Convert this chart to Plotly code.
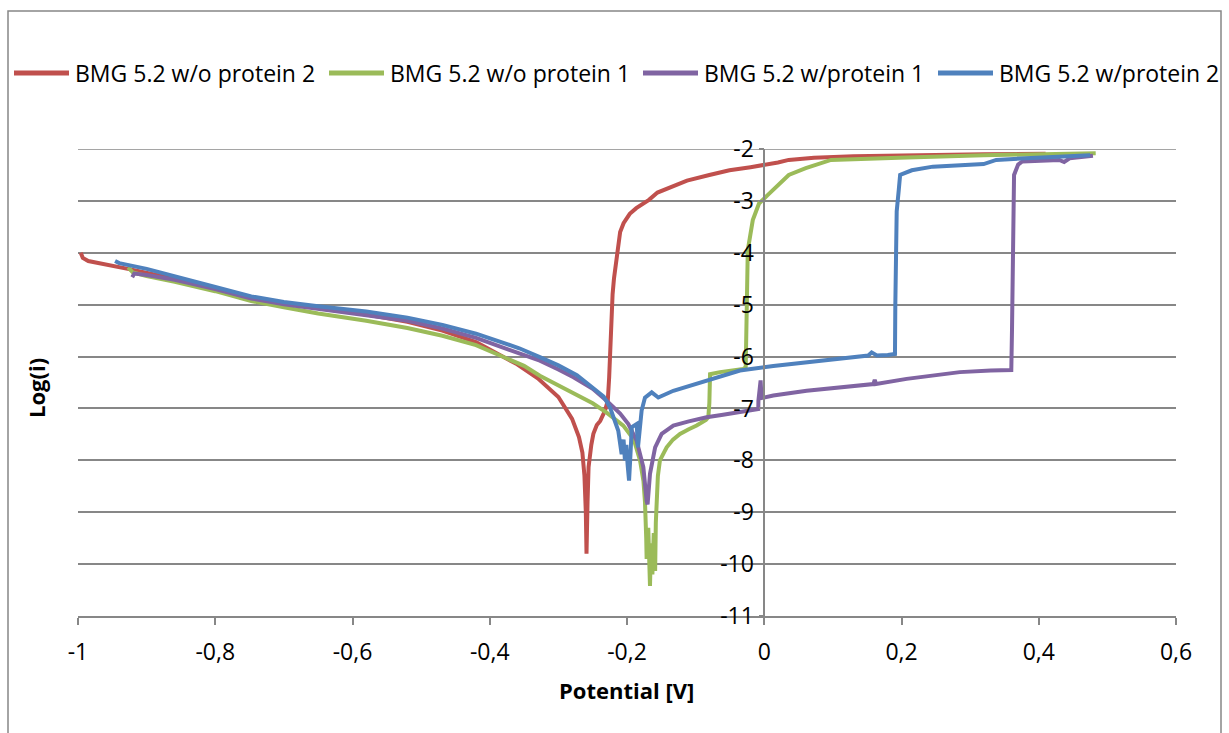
import plotly.graph_objects as go

# ---------------- data ----------------
red_name = "BMG 5.2 w/o protein 2"
red_x = [-0.996, -0.993, -0.985, -0.96, -0.92, -0.859, -0.80, -0.7475, -0.70, -0.65, -0.58, -0.52,
         -0.469, -0.42, -0.385, -0.36, -0.33, -0.30, -0.28, -0.27, -0.265, -0.262, -0.260, -0.259,
         -0.2575, -0.256, -0.252, -0.249, -0.244, -0.239, -0.232, -0.228, -0.226, -0.2248, -0.2224,
         -0.221, -0.219, -0.2143, -0.21, -0.205, -0.196, -0.1865, -0.168, -0.1556, -0.14, -0.1126,
         -0.08, -0.0507, -0.02, 0.0025, 0.02, 0.0357, 0.0725, 0.13, 0.196, 0.26, 0.32, 0.41]
red_y = [-4.00, -4.10, -4.16, -4.22, -4.33, -4.50, -4.70, -4.87, -4.98, -5.07, -5.19, -5.33,
         -5.50, -5.72, -5.98, -6.15, -6.42, -6.78, -7.20, -7.55, -7.85, -8.30, -9.00, -9.80,
         -8.80, -8.13, -7.70, -7.49, -7.32, -7.24, -7.04, -6.85, -6.40, -5.89, -5.24,
         -4.80, -4.50, -3.95, -3.60, -3.43, -3.25, -3.14, -2.98, -2.84, -2.75, -2.61,
         -2.50, -2.41, -2.35, -2.31, -2.26, -2.21, -2.17, -2.14, -2.12, -2.11, -2.10, -2.09]

green_name = "BMG 5.2 w/o protein 1"
green_x = [-0.927, -0.92, -0.90, -0.859, -0.80, -0.7475, -0.70, -0.65, -0.58, -0.52, -0.469, -0.42,
           -0.385, -0.35, -0.327, -0.30, -0.278, -0.25, -0.2297, -0.2054, -0.19, -0.181, -0.176,
           -0.1738, -0.172, -0.1714, -0.169, -0.168, -0.1665, -0.165, -0.163, -0.161, -0.159, -0.158,
           -0.157, -0.155, -0.152, -0.147, -0.1422, -0.133, -0.1228, -0.11, -0.0985, -0.085, -0.0815,
           -0.080, -0.079, -0.0645, -0.045, -0.0305, -0.027, -0.026, -0.0255, -0.024, -0.0167,
           -0.0076, 0.0049, 0.0171, 0.0357, 0.0605, 0.0973, 0.196, 0.32, 0.483]
green_y = [-4.28, -4.38, -4.45, -4.56, -4.74, -4.93, -5.05, -5.17, -5.31, -5.45, -5.60, -5.78,
           -5.98, -6.18, -6.37, -6.55, -6.70, -6.90, -7.08, -7.33, -7.60, -8.00, -8.40,
           -8.80, -9.50, -9.90, -9.30, -10.10, -10.42, -9.60, -10.20, -9.40, -10.13, -9.20,
           -8.78, -8.30, -8.00, -7.85, -7.75, -7.60, -7.49, -7.40, -7.33, -7.22, -7.17,
           -6.90, -6.34, -6.30, -6.27, -6.24, -6.20, -5.50, -4.60, -3.95, -3.37,
           -3.05, -2.89, -2.73, -2.50, -2.37, -2.21, -2.17, -2.12, -2.08]

purple_name = "BMG 5.2 w/protein 1"
purple_x = [-0.921, -0.918, -0.90, -0.859, -0.80, -0.7475, -0.70, -0.65, -0.58, -0.52, -0.469, -0.42,
            -0.357, -0.327, -0.30, -0.278, -0.25, -0.2297, -0.21, -0.198, -0.186, -0.1762, -0.1714,
            -0.170, -0.1665, -0.159, -0.1495, -0.1325, -0.11, -0.084, -0.06, -0.0354, -0.0087,
            -0.0085, -0.0053, -0.004, 0.0132, 0.0618, 0.11, 0.159, 0.161, 0.163, 0.2075, 0.25,
            0.285, 0.33, 0.360, 0.361, 0.362, 0.363, 0.364, 0.37, 0.376, 0.412, 0.43, 0.437, 0.445, 0.479]
purple_y = [-4.47, -4.40, -4.43, -4.52, -4.70, -4.88, -4.99, -5.08, -5.19, -5.31, -5.46, -5.64,
            -5.94, -6.08, -6.25, -6.40, -6.62, -6.85, -7.10, -7.30, -7.62, -8.13, -8.78,
            -8.85, -8.26, -7.75, -7.49, -7.33, -7.25, -7.17, -7.12, -7.07, -7.01,
            -6.85, -6.46, -6.80, -6.75, -6.66, -6.60, -6.53, -6.45, -6.53, -6.43, -6.36,
            -6.30, -6.27, -6.26, -5.50, -4.70, -3.50, -2.50, -2.30, -2.24, -2.22, -2.21, -2.25, -2.18, -2.13]

blue_name = "BMG 5.2 w/protein 2"
blue_x = [-0.946, -0.94, -0.90, -0.859, -0.80, -0.7475, -0.70, -0.65, -0.58, -0.52, -0.469, -0.42,
          -0.357, -0.327, -0.30, -0.273, -0.25, -0.234, -0.2248, -0.2127, -0.2078, -0.205, -0.203,
          -0.201, -0.199, -0.197, -0.195, -0.193, -0.1859, -0.184, -0.1787, -0.1738, -0.164, -0.1544,
          -0.1325, -0.084, -0.0354, 0.0132, 0.0618, 0.110, 0.1516, 0.1565, 0.164, 0.18, 0.1905,
          0.191, 0.192, 0.193, 0.196, 0.198, 0.215, 0.2457, 0.3197, 0.338, 0.381, 0.456, 0.475]
blue_y = [-4.16, -4.20, -4.31, -4.46, -4.66, -4.84, -4.95, -5.03, -5.13, -5.25, -5.39, -5.56,
          -5.84, -6.01, -6.17, -6.36, -6.60, -6.77, -6.98, -7.43, -7.88, -7.60, -8.00,
          -7.70, -8.10, -8.39, -7.90, -7.36, -7.30, -7.75, -7.04, -6.79, -6.69, -6.79,
          -6.66, -6.46, -6.27, -6.18, -6.11, -6.05, -5.98, -5.92, -5.98, -5.97, -5.95,
          -5.00, -4.00, -3.20, -2.79, -2.50, -2.41, -2.34, -2.29, -2.21, -2.18, -2.12, -2.12]

x_tickvals = [-1, -0.8, -0.6, -0.4, -0.2, 0, 0.2, 0.4, 0.6]
x_ticktext = ["-1", "-0,8", "-0,6", "-0,4", "-0,2", "0", "0,2", "0,4", "0,6"]
y_tickvals = [-2, -3, -4, -5, -6, -7, -8, -9, -10, -11]
y_ticktext = ["-2", "-3", "-4", "-5", "-6", "-7", "-8", "-9", "-10", "-11"]

x_title = "Potential [V]"
y_title = "Log(i)"

# ---------------- styling ----------------
FONT = "Open Sans"
GRID = "#878787"
colors = {"red": "#C0504D", "green": "#9BBB59", "purple": "#8064A2", "blue": "#4F81BD"}

W, H = 1229, 733
L_M, R_M, T_M, B_M = 78, 53, 149, 117
PW, PH = W - L_M - R_M, H - T_M - B_M


def px_x(p):
    return (p - L_M) / PW


def px_y(p):
    return (H - B_M - p) / PH


series = [(red_name, red_x, red_y, colors["red"]),
          (green_name, green_x, green_y, colors["green"]),
          (purple_name, purple_x, purple_y, colors["purple"]),
          (blue_name, blue_x, blue_y, colors["blue"])]

fig = go.Figure()
for nm, xs, ys, c in series:
    fig.add_trace(go.Scatter(x=xs, y=ys, mode="lines", name=nm,
                             line=dict(color=c, width=4), showlegend=False))

shapes = [
    # chart-area border
    dict(type="rect", xref="paper", yref="paper",
         x0=px_x(8), x1=px_x(1221), y0=px_y(745), y1=px_y(11),
         line=dict(color=GRID, width=1.5), fillcolor="rgba(0,0,0,0)", layer="below"),
    # top gridline (at the range edge)
    dict(type="line", xref="paper", yref="y", x0=0, x1=1, y0=-2, y1=-2,
         line=dict(color=GRID, width=1.5), layer="below"),
]
annotations = [
    dict(text=f"<b>{y_title}</b>", xref="paper", yref="paper", x=px_x(36), y=px_y(388),
         xanchor="center", yanchor="middle", textangle=-90, showarrow=False,
         font=dict(family=FONT, size=22, color="black")),
    dict(text=f"<b>{x_title}</b>", xref="paper", yref="paper", x=px_x(626), y=px_y(690),
         xanchor="center", yanchor="middle", showarrow=False,
         font=dict(family=FONT, size=22, color="black")),
]

# legend drawn as sample lines + text (Excel-style, long line samples)
legend_line_px = [(14, 69), (329, 384), (643, 698), (938, 993)]
legend_text_px = [73, 388, 702, 997]
LEG_Y = 73
for (nm, _, _, c), (a, b), tx in zip(series, legend_line_px, legend_text_px):
    shapes.append(dict(type="line", xref="paper", yref="paper",
                       x0=px_x(a), x1=px_x(b), y0=px_y(LEG_Y), y1=px_y(LEG_Y),
                       line=dict(color=c, width=5)))
    annotations.append(dict(text=nm, xref="paper", yref="paper", x=px_x(tx), y=px_y(LEG_Y),
                            xanchor="left", yanchor="middle", showarrow=False,
                            font=dict(family=FONT, size=23, color="black")))

fig.update_layout(
    width=W, height=H,
    margin=dict(l=L_M, r=R_M, t=T_M, b=B_M, autoexpand=False),
    paper_bgcolor="white", plot_bgcolor="white",
    font=dict(family=FONT, size=23, color="black"),
    showlegend=False,
    xaxis=dict(range=[-1, 0.6], tickvals=x_tickvals, ticktext=x_ticktext, automargin=False,
               showgrid=False, zeroline=False, showline=True, linecolor=GRID, linewidth=1.5,
               ticks="outside", ticklen=7, tickcolor=GRID, tickwidth=1.5,
               ticklabelstandoff=8,
               tickfont=dict(family=FONT, size=23, color="black")),
    yaxis=dict(range=[-11, -2], tickvals=y_tickvals, ticktext=y_ticktext, automargin=False,
               anchor="free", position=0.625,
               showgrid=True, gridcolor=GRID, gridwidth=1.5,
               zeroline=False, showline=True, linecolor=GRID, linewidth=1.5,
               ticks="outside", ticklen=5, tickcolor=GRID, tickwidth=1.5,
               tickfont=dict(family=FONT, size=23, color="black")),
    shapes=shapes,
    annotations=annotations,
)

fig.write_html("out.html")
